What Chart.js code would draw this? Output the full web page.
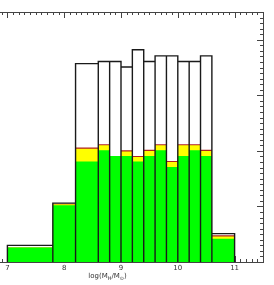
<!DOCTYPE html>
<html><head><meta charset="utf-8">
<script src="https://cdn.jsdelivr.net/npm/chart.js@4/dist/chart.umd.min.js"></script>
<style>
html,body{margin:0;padding:0;background:#fff;}
#wrap{position:relative;width:274px;height:285px;overflow:hidden;background:#fff;}
#c{position:absolute;left:-30px;top:0;}
</style></head>
<body><div id="wrap"><canvas id="c" width="310" height="285"></canvas></div>
<script>
// histogram bin edges (log mass)
const binEdges = [7.0, 7.8, 8.2, 8.6, 8.8, 9.0, 9.2, 9.4, 9.6, 9.8, 10.0, 10.2, 10.4, 10.6, 11.0];
// total (outlined) counts
const totalCounts = [3.0, 10.6, 35.7, 36.1, 36.1, 35.1, 38.2, 36.1, 37.1, 37.1, 36.1, 36.1, 37.1, 5.1];
// cumulative tops of the stacked coloured layers
const redTop    = [2.6, 10.5, 20.6, 21.2, 19.1, 20.1, 19.1, 20.2, 21.2, 18.2, 21.2, 21.2, 20.2, 4.8];
const yellowTop = [2.6, 10.4, 20.4, 21.0, 19.1, 19.9, 18.9, 20.0, 21.0, 18.0, 21.0, 21.0, 20.0, 4.6];
const greenTop  = [2.6, 10.2, 18.1, 20.1, 19.1, 19.1, 18.1, 19.1, 20.1, 17.1, 19.1, 20.1, 19.1, 4.2];
const xTickValues = [7, 8, 9, 10, 11];
const xRange = [6.5, 11.5];
const yRange = [0, 45];

function stepSeries(vals){
  return binEdges.map((e,i)=>({x:e, y:vals[Math.min(i, vals.length-1)]}));
}
function outlineSeries(vals){
  const pts=[];
  for(let i=0;i<vals.length;i++){
    pts.push({x:binEdges[i],y:0},{x:binEdges[i],y:vals[i]},{x:binEdges[i+1],y:vals[i]},{x:binEdges[i+1],y:0});
  }
  return pts;
}

const axisColor = '#444';
const tickPlugin = {
  id:'idlTicks',
  beforeDatasetsDraw(chart){
    const {ctx, chartArea:a, scales:{x,y}} = chart;
    ctx.save();
    ctx.strokeStyle = axisColor; ctx.lineWidth = 1;
    ctx.beginPath();
    for(let k=Math.round(xRange[0]*10);k<=Math.round(xRange[1]*10);k++){
      const px = Math.round(x.getPixelForValue(k/10))+0.5;
      const len = (k%10===0)?6:3;
      ctx.moveTo(px,a.top); ctx.lineTo(px,a.top+len);
      ctx.moveTo(px,a.bottom); ctx.lineTo(px,a.bottom-len);
    }
    for(let k=yRange[0];k<=yRange[1];k++){
      const py = Math.round(y.getPixelForValue(k))+0.5;
      const len = (k%10===0)?6:3;
      ctx.moveTo(a.right,py); ctx.lineTo(a.right-len,py);
    }
    ctx.stroke();
    ctx.restore();
  },
  afterDatasetsDraw(chart){
    const {ctx, chartArea:a} = chart;
    ctx.save();
    ctx.strokeStyle = axisColor; ctx.lineWidth = 1;
    ctx.strokeRect(Math.round(a.left)+0.5, Math.round(a.top)+0.5, Math.round(a.right-a.left), Math.round(a.bottom-a.top));
    // axis title with subscripts
    ctx.fillStyle = '#333';
    ctx.textBaseline = 'alphabetic';
    const parts = [['log(M',7,0],['H',5,2],['/M',7,0],['\u2299',5,2],[')',7,0]];
    let w=0;
    parts.forEach(p=>{ctx.font=p[1]+'px "DejaVu Sans"'; w+=ctx.measureText(p[0]).width;});
    let cx = 137.5 - w/2, base = 278;
    parts.forEach(p=>{ctx.font=p[1]+'px "DejaVu Sans"'; ctx.fillText(p[0],cx,base+p[2]); cx+=ctx.measureText(p[0]).width;});
    ctx.restore();
  }
};

new Chart(document.getElementById('c'),{
  type:'line',
  data:{datasets:[
    {data:outlineSeries(totalCounts), borderColor:'#1a1a1a', borderWidth:1.4, pointRadius:0, fill:false, tension:0},
    {data:stepSeries(greenTop), stepped:true, borderWidth:0, borderColor:'rgba(0,0,0,0)', backgroundColor:'#00ff00', pointRadius:0, fill:'origin'},
    {data:stepSeries(yellowTop), stepped:true, borderWidth:0, borderColor:'rgba(0,0,0,0)', backgroundColor:'#ffff00', pointRadius:0, fill:'origin'},
    {data:stepSeries(redTop), stepped:true, borderWidth:0, borderColor:'rgba(0,0,0,0)', backgroundColor:'#b02020', pointRadius:0, fill:'origin'}
  ]},
  options:{
    responsive:false, animation:false, devicePixelRatio:1,
    layout:{padding:{left:9,right:17,top:12,bottom:0}},
    plugins:{legend:{display:false},tooltip:{enabled:false}},
    scales:{
      x:{type:'linear', min:xRange[0], max:xRange[1], position:'bottom',
         grid:{display:false, drawTicks:false}, border:{display:false},
         afterFit:(s)=>{s.height=23;},
         afterBuildTicks:(s)=>{s.ticks = xTickValues.map(v=>({value:v}));},
         ticks:{autoSkip:false, maxRotation:0, padding:2, color:'#333', font:{family:'DejaVu Sans', size:7},
                callback:(v)=>String(v)}},
      y:{type:'linear', min:yRange[0], max:yRange[1], display:false}
    }
  },
  plugins:[tickPlugin]
});
</script></body></html>
